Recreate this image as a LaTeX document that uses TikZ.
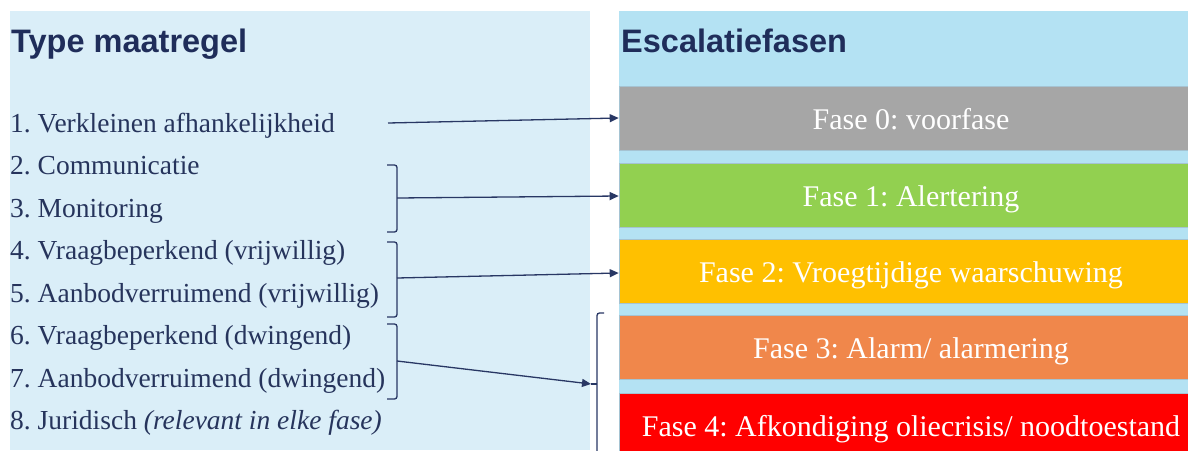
\documentclass[tikz,border=0pt]{standalone}
\usepackage{fontspec}
\setmainfont{Liberation Serif}
\newfontfamily\headfont{Liberation Sans}
\usetikzlibrary{arrows.meta}
\frenchspacing
\definecolor{leftbg}{RGB}{218,238,248}
\definecolor{rightbg}{RGB}{180,226,243}
\definecolor{headnavy}{RGB}{31,45,90}
\definecolor{itemnavy}{RGB}{38,52,92}
\definecolor{linenavy}{RGB}{40,55,100}
\definecolor{barline}{RGB}{165,195,210}
\definecolor{phgray}{RGB}{166,166,166}
\definecolor{phgreen}{RGB}{146,208,80}
\definecolor{phyellow}{RGB}{255,192,0}
\definecolor{phorange}{RGB}{240,135,75}
\definecolor{phred}{RGB}{255,0,0}
\begin{document}
\begin{tikzpicture}[x=1pt,y=-1pt,
  heading/.style={anchor=base west, inner sep=0pt, font=\headfont\bfseries\fontsize{32.5}{38}\selectfont, text=headnavy},
  item/.style={anchor=base west, inner sep=0pt, font=\fontsize{27.5}{32}\selectfont, text=itemnavy},
  phase/.style={minimum width=584pt, minimum height=64pt, inner sep=0pt, text height=28pt, text depth=6pt, text=white, font=\fontsize{30}{36}\selectfont, draw=barline, line width=0.6pt},
  conn/.style={draw=linenavy, line width=1.3pt, -{Triangle[length=9pt,width=8pt]}},
  bracestyle/.style={draw=linenavy, line width=1.3pt, rounded corners=2.5pt}]
\clip (0,0) rectangle (1188,450);
\fill[white] (0,0) rectangle (1188,450);
\fill[leftbg] (10,11) rectangle (590,450);
\fill[rightbg] (619,11) rectangle (1188,450);

% headings
\node[heading] (h1) at (11,52) {Type maatregel};
\node[heading] (h2) at (621,52) {Escalatiefasen};

% measures
\node[item] (m1) at (10,132) {1. Verkleinen afhankelijkheid};
\node[item] (m2) at (10,174.5) {2. Communicatie};
\node[item] (m3) at (10,217) {3. Monitoring};
\node[item] (m4) at (10,259.5) {4. Vraagbeperkend (vrijwillig)};
\node[item] (m5) at (10,302) {5. Aanbodverruimend (vrijwillig)};
\node[item] (m6) at (10,344.5) {6. Vraagbeperkend (dwingend)};
\node[item] (m7) at (10,387) {7. Aanbodverruimend (dwingend)};
\node[item] (m8) at (10,429.5) {8. Juridisch \textit{(relevant in elke fase)}};

% phases
\node[phase, fill=phgray] (p0) at (911,118) {Fase 0: voorfase};
\node[phase, fill=phgreen] (p1) at (911,195) {Fase 1: Alertering};
\node[phase, fill=phyellow] (p2) at (911,271) {Fase 2: Vroegtijdige waarschuwing};
\node[phase, fill=phorange] (p3) at (911,347.5) {Fase 3: Alarm/ alarmering};
\node[phase, fill=phred] (p4) at (911,425) {Fase 4: Afkondiging oliecrisis/ noodtoestand};

% braces
\draw[bracestyle] (387,165) -- (397,165) -- (397,232) -- (387,232);
\draw[bracestyle] (387,242) -- (397,242) -- (397,317) -- (387,317);
\draw[bracestyle] (387,324) -- (397,324) -- (397,399) -- (387,399);
\draw[bracestyle] (604,313) -- (597,313) -- (597,470);
\coordinate (s1) at (388,123);
\coordinate (t23) at (397,198);
\coordinate (t45) at (397,278);
\coordinate (t67) at (397,361);
\coordinate (bmid) at (597,384);
\coordinate (btip) at (591,384);
\draw[draw=linenavy, line width=1.3pt] (bmid) -- (btip);

% connectors
\draw[conn] (s1) -- (p0.west);
\draw[conn] (t23) -- ([yshift=-1pt]p1.west);
\draw[conn] (t45) -- ([yshift=-2pt]p2.west);
\draw[conn] (t67) -- (btip);
\end{tikzpicture}
\end{document}
